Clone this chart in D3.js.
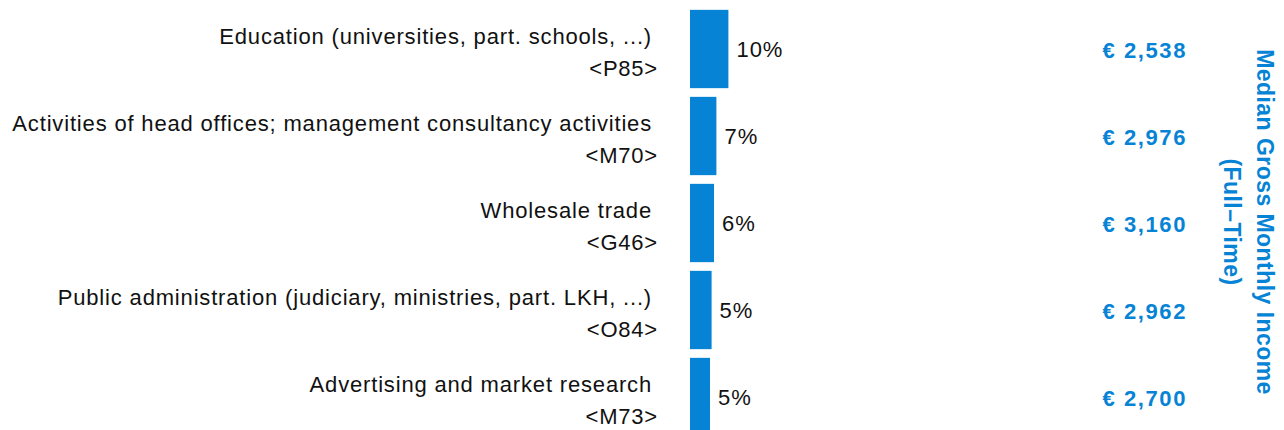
<html>
<head>
  <meta charset="utf-8" />
  <script src="https://cdnjs.cloudflare.com/ajax/libs/d3/7.8.5/d3.min.js"></script>
  <style>
    body { margin: 0; background: #fff; }
    text { font-family: "Liberation Sans", Arial, sans-serif; }
  </style>
</head>
<body>
  <svg></svg>
  <script>
  // data
  var sectors = [
    "Education (universities, part. schools, ...)",
    "Activities of head offices; management consultancy activities",
    "Wholesale trade",
    "Public administration (judiciary, ministries, part. LKH, ...)",
    "Advertising and market research"
  ];
  var codes = ["<P85>", "<M70>", "<G46>", "<O84>", "<M73>"];
  var shares = [9.6, 6.6, 6.0, 5.4, 5.0];
  var incomes = [2538, 2976, 3160, 2962, 2700];
  var titleLines = ["Median Gross Monthly Income", "(Full\u2013Time)"];

  var blue = "#0683d5";
  var svg = d3.select("svg").attr("width", 1284).attr("height", 430);

  var rows = d3.range(sectors.length);
  var y = d3.scaleBand().domain(rows).range([5.5, 440.5]).paddingInner(0.1).paddingOuter(0.05);
  var x = d3.scaleLinear().domain([0, 10]).range([690, 730]);

  svg.selectAll("rect.bar")
    .data(rows)
    .enter().append("rect")
      .attr("class", "bar")
      .attr("x", x(0))
      .attr("y", i => y(i))
      .attr("width", i => x(shares[i]) - x(0))
      .attr("height", y.bandwidth())
      .attr("fill", blue);

  // percent labels
  svg.selectAll("text.pct")
    .data(rows)
    .enter().append("text")
      .attr("class", "pct")
      .attr("x", i => x(shares[i]) + 8)
      .attr("y", i => y(i) + y.bandwidth() / 2 + 8)
      .attr("font-size", 22)
      .attr("letter-spacing", 1)
      .attr("fill", "#111")
      .text(i => d3.format(".0f")(shares[i]) + "%");

  // category labels, two lines
  var lab = svg.selectAll("g.lab")
    .data(rows)
    .enter().append("g")
      .attr("class", "lab")
      .attr("transform", i => "translate(657," + (y(i) + y.bandwidth() / 2) + ")");
  lab.append("text")
    .attr("x", -5).attr("y", -5)
    .attr("text-anchor", "end")
    .attr("font-size", 22)
    .attr("letter-spacing", 0.83)
    .attr("fill", "#111")
    .text(i => sectors[i]);
  lab.append("text")
    .attr("x", 1).attr("y", 27)
    .attr("text-anchor", "end")
    .attr("font-size", 22)
    .attr("letter-spacing", 0.78)
    .attr("fill", "#111")
    .text(i => codes[i]);

  // income values
  svg.selectAll("text.inc")
    .data(rows)
    .enter().append("text")
      .attr("class", "inc")
      .attr("x", 1187)
      .attr("y", i => y(i) + y.bandwidth() / 2 + 9)
      .attr("text-anchor", "end")
      .attr("font-size", 22)
      .attr("letter-spacing", 1.6)
      .attr("font-weight", "bold")
      .attr("fill", blue)
      .text(i => "\u20ac " + d3.format(",")(incomes[i]));

  // rotated title
  var title = svg.append("g").attr("transform", "translate(1257,222) rotate(90)");
  title.selectAll("text")
    .data(titleLines)
    .enter().append("text")
      .attr("x", 0)
      .attr("y", (d, i) => i * 33)
      .attr("text-anchor", "middle")
      .attr("font-size", 23)
      .attr("letter-spacing", 0.45)
      .attr("font-weight", "bold")
      .attr("fill", blue)
      .text(d => d);
  </script>
</body>
</html>
